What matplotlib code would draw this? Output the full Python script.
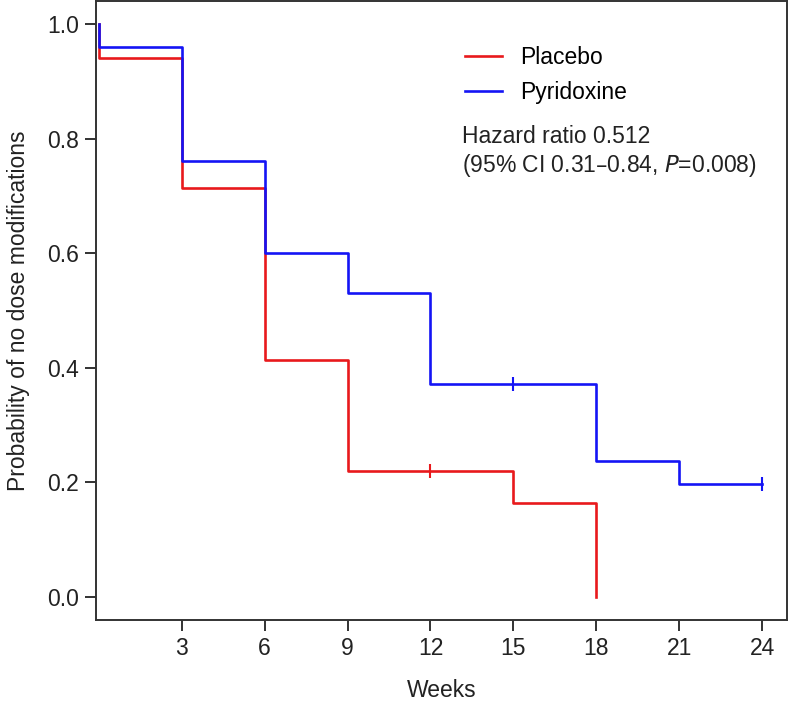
import matplotlib
matplotlib.use("Agg")
import matplotlib.pyplot as plt

plt.rcParams['font.family'] = ['Liberation Sans', 'DejaVu Sans']

# Kaplan-Meier step data (weeks, survival)
placebo_t = [0, 0, 3, 6, 9, 12, 15, 18, 18]
placebo_s = [1.0, 0.94, 0.714, 0.413, 0.22, 0.22, 0.165, 0.165, 0.0]
placebo_cens_t = [12]
placebo_cens_s = [0.22]

pyridoxine_t = [0, 0, 3, 6, 9, 12, 15, 18, 21, 24]
pyridoxine_s = [1.0, 0.96, 0.76, 0.60, 0.53, 0.372, 0.372, 0.237, 0.197, 0.197]
pyridoxine_cens_t = [15, 24]
pyridoxine_cens_s = [0.372, 0.197]

x_ticks = [3, 6, 9, 12, 15, 18, 21, 24]
y_ticks = [0.0, 0.2, 0.4, 0.6, 0.8, 1.0]

red = '#e8191c'
blue = '#1414f5'
FS = 16.5

fig = plt.figure(figsize=(7.91, 7.01), dpi=100)
ax = fig.add_axes([96/791, 81/701, (787-96)/791, (620-1)/701])

ax.step(placebo_t, placebo_s, where='post', color=red, lw=1.9, label='Placebo')
ax.step(pyridoxine_t, pyridoxine_s, where='post', color=blue, lw=1.9, label='Pyridoxine')
ax.plot(placebo_cens_t, placebo_cens_s, ls='none', marker='|', ms=10, mew=1.5, color=red)
ax.plot(pyridoxine_cens_t, pyridoxine_cens_s, ls='none', marker='|', ms=10, mew=1.5, color=blue)

ax.set_xlim(-0.1, 24.9)
ax.set_ylim(-0.04, 1.04)
ax.set_xticks(x_ticks)
ax.set_xticklabels([str(v) for v in x_ticks])
ax.set_yticks(y_ticks)
ax.set_yticklabels([f'{v:.1f}' for v in y_ticks])
ax.tick_params(direction='out', length=8, width=1.3, labelsize=FS, colors='#222222', pad=4.5)
for s in ax.spines.values():
    s.set_linewidth(1.4)
    s.set_color('#333333')

ax.set_xlabel('Weeks', fontsize=FS, labelpad=13.5, color='#222222')
ax.set_ylabel('Probability of no dose modifications', fontsize=FS, labelpad=12, color='#222222')

ax.legend(loc='upper left', bbox_to_anchor=(0.534, 0.927), frameon=False, fontsize=FS,
          handlelength=1.6, handletextpad=0.8, labelspacing=0.5, borderpad=0, borderaxespad=0)
ax.text(0.5297, 0.80, 'Hazard ratio 0.512\n(95% CI 0.31\u20130.84, $\\it{P}$=0.008)',
        transform=ax.transAxes, fontsize=FS, va='top', ha='left', linespacing=1.2, color='#222222')

fig.savefig('out.png', dpi=100)
